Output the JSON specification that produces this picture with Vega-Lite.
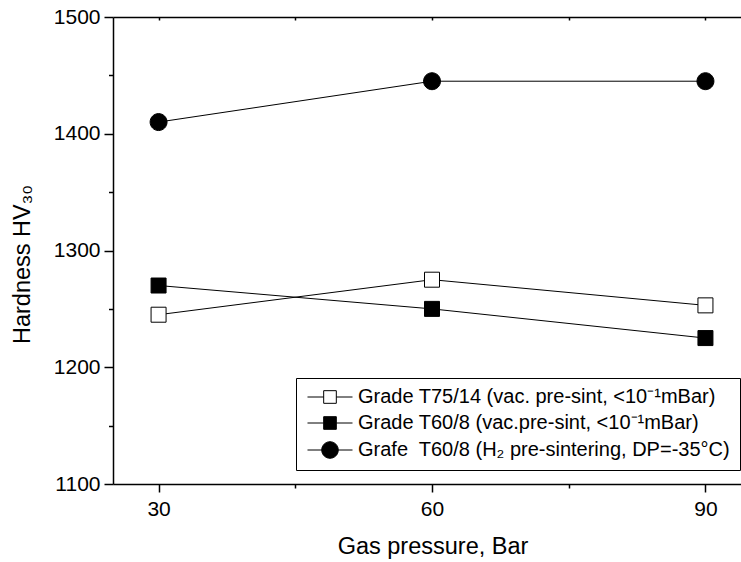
{
  "$schema": "https://vega.github.io/schema/vega-lite/v6.json",
  "autosize": "none",
  "width": 628,
  "height": 467,
  "padding": {"left": 113, "top": 17, "right": 0, "bottom": 78},
  "background": "white",
  "config": {
    "view": {"stroke": null},
    "font": "Liberation Sans",
    "axis": {
      "domainColor": "black",
      "domainWidth": 1.5,
      "tickColor": "black",
      "tickWidth": 1.5,
      "labelColor": "black",
      "titleColor": "black",
      "labelFont": "Liberation Sans",
      "titleFont": "Liberation Sans",
      "labelFontSize": 21,
      "titleFontSize": 23.5,
      "titleFontWeight": "normal",
      "grid": false
    },
    "legend": {
      "orient": "none",
      "legendX": 183,
      "legendY": 361,
      "padding": 9,
      "strokeColor": "black",
      "strokeWidth": 1,
      "fillColor": "white",
      "labelFont": "Liberation Sans",
      "labelFontSize": 20,
      "labelColor": "black",
      "labelLimit": 500,
      "labelOffset": 18,
      "rowPadding": 6,
      "symbolOffset": 15,
      "symbolSize": 160,
      "symbolStrokeColor": "black",
      "symbolStrokeWidth": 1,
      "symbolOpacity": 1
    }
  },
  "datasets": {
    "hardness": [
      {"series": "Grade T75/14 (vac. pre-sint, <10⁻¹mBar)", "pressure": 30, "hardness": 1245},
      {"series": "Grade T75/14 (vac. pre-sint, <10⁻¹mBar)", "pressure": 60, "hardness": 1275},
      {"series": "Grade T75/14 (vac. pre-sint, <10⁻¹mBar)", "pressure": 90, "hardness": 1253},
      {"series": "Grade T60/8 (vac.pre-sint, <10⁻¹mBar)", "pressure": 30, "hardness": 1270},
      {"series": "Grade T60/8 (vac.pre-sint, <10⁻¹mBar)", "pressure": 60, "hardness": 1250},
      {"series": "Grade T60/8 (vac.pre-sint, <10⁻¹mBar)", "pressure": 90, "hardness": 1225},
      {"series": "Grafe\u00a0 T60/8 (H₂ pre-sintering, DP=-35°C)", "pressure": 30, "hardness": 1410},
      {"series": "Grafe\u00a0 T60/8 (H₂ pre-sintering, DP=-35°C)", "pressure": 60, "hardness": 1445},
      {"series": "Grafe\u00a0 T60/8 (H₂ pre-sintering, DP=-35°C)", "pressure": 90, "hardness": 1445}
    ],
    "keyOnly": []
  },
  "data": {"name": "hardness"},
  "layer": [
    {
      "mark": {"type": "line", "color": "black", "strokeWidth": 1},
      "encoding": {
        "x": {
          "field": "pressure", "type": "quantitative",
          "scale": {"domain": [25, 93.9], "nice": false, "zero": false},
          "axis": {"orient": "bottom", "values": [30, 60, 90], "tickSize": 8, "labelPadding": 6, "title": "Gas pressure, Bar", "titlePadding": 15, "titleX": 319.5}
        },
        "y": {
          "field": "hardness", "type": "quantitative",
          "scale": {"domain": [1100, 1500], "nice": false, "zero": false},
          "axis": {"orient": "left", "values": [1100, 1200, 1300, 1400, 1500], "format": "d", "tickSize": 9, "labelPadding": 4, "title": "Hardness HV₃₀", "titlePadding": 19, "titleY": 247}
        },
        "detail": {"field": "series"}
      }
    },
    {
      "mark": {"type": "point", "filled": false, "stroke": "black", "strokeWidth": 1, "opacity": 1, "size": 225},
      "encoding": {
        "x": {
          "field": "pressure", "type": "quantitative",
          "axis": {"orient": "bottom", "values": [45, 75], "tickSize": 4, "labels": false, "domain": false, "title": null}
        },
        "y": {
          "field": "hardness", "type": "quantitative",
          "axis": {"orient": "left", "values": [1150, 1250, 1350, 1450], "tickSize": 4.5, "labels": false, "domain": false, "title": null}
        },
        "shape": {
          "field": "series", "type": "nominal",
          "scale": {
            "domain": ["Grade T75/14 (vac. pre-sint, <10⁻¹mBar)", "Grade T60/8 (vac.pre-sint, <10⁻¹mBar)", "Grafe\u00a0 T60/8 (H₂ pre-sintering, DP=-35°C)"],
            "range": ["M-1,-1H1V1H-1Z", "M-1,-1H1V1H-1Z", "M-1.13,0A1.13,1.13 0 1,0 1.13,0A1.13,1.13 0 1,0 -1.13,0Z"]
          },
          "legend": null
        },
        "fill": {
          "field": "series", "type": "nominal",
          "scale": {
            "domain": ["Grade T75/14 (vac. pre-sint, <10⁻¹mBar)", "Grade T60/8 (vac.pre-sint, <10⁻¹mBar)", "Grafe\u00a0 T60/8 (H₂ pre-sintering, DP=-35°C)"],
            "range": ["white", "black", "black"]
          },
          "legend": null
        }
      }
    },
    {
      "mark": {"type": "line", "strokeOpacity": 0},
      "encoding": {
        "x": {
          "field": "pressure", "type": "quantitative",
          "axis": {"orient": "top", "values": [30, 45, 60, 75, 90], "tickSize": -3, "labels": false, "title": null}
        },
        "y": {
          "field": "hardness", "type": "quantitative",
          "axis": {"orient": "left", "labels": false, "ticks": false, "domain": false, "title": null}
        },
        "detail": {"field": "series"}
      }
    },
    {
      "data": {"name": "keyOnly"},
      "mark": {"type": "point", "filled": true, "strokeWidth": 1, "opacity": 1, "size": 160},
      "encoding": {
        "x": {"field": "pressure", "type": "quantitative", "axis": null},
        "y": {"field": "hardness", "type": "quantitative", "axis": null},
        "shape": {
          "field": "series", "type": "nominal",
          "scale": {
            "domain": ["Grade T75/14 (vac. pre-sint, <10⁻¹mBar)", "Grade T60/8 (vac.pre-sint, <10⁻¹mBar)", "Grafe\u00a0 T60/8 (H₂ pre-sintering, DP=-35°C)"],
            "range": [
              "M-3.56,0H-1M1,0H3.56M-1,-1H1V1H-1Z",
              "M-3.56,0H-1M1,0H3.56M-1,-1H1V1H-1Z",
              "M-3.56,0H-1.31M1.31,0H3.56M-1.31,0A1.31,1.31 0 1,0 1.31,0A1.31,1.31 0 1,0 -1.31,0Z"
            ]
          },
          "legend": {"title": null}
        },
        "fill": {
          "field": "series", "type": "nominal",
          "scale": {
            "domain": ["Grade T75/14 (vac. pre-sint, <10⁻¹mBar)", "Grade T60/8 (vac.pre-sint, <10⁻¹mBar)", "Grafe\u00a0 T60/8 (H₂ pre-sintering, DP=-35°C)"],
            "range": ["white", "black", "black"]
          },
          "legend": {"title": null}
        },
        "stroke": {
          "field": "series", "type": "nominal",
          "scale": {
            "domain": ["Grade T75/14 (vac. pre-sint, <10⁻¹mBar)", "Grade T60/8 (vac.pre-sint, <10⁻¹mBar)", "Grafe\u00a0 T60/8 (H₂ pre-sintering, DP=-35°C)"],
            "range": ["black", "black", "black"]
          },
          "legend": {"title": null}
        }
      }
    }
  ],
  "resolve": {
    "axis": {"x": "independent", "y": "independent"},
    "scale": {"shape": "independent", "fill": "independent", "stroke": "independent"}
  }
}
